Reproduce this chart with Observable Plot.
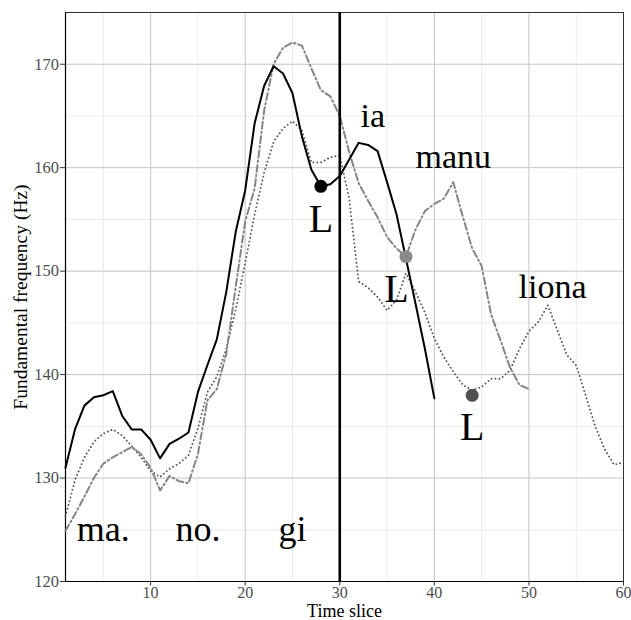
<!DOCTYPE html>
<html><head><meta charset="utf-8">
<script src="https://cdn.jsdelivr.net/npm/d3@7"></script>
<script src="https://cdn.jsdelivr.net/npm/@observablehq/plot@0.6"></script>
<style>body{margin:0;background:#fff} svg{display:block}</style>
</head><body><div id="chart"></div>
<script>
// --- data ---
const iaTime = [1,2,3,4,5,6,7,8,9,10,11,12,13,14,15,16,17,18,19,20,21,22,23,24,25,26,27,28,29,30,31,32,33,34,35,36,37,38,39,40];
const iaF0 = [131.0,134.7,137.0,137.8,138.0,138.4,136.0,134.7,134.7,133.7,131.9,133.3,133.8,134.4,138.3,140.9,143.4,148.0,153.8,157.8,164.3,167.9,169.8,169.1,167.2,163.0,159.8,158.2,158.4,159.2,160.8,162.4,162.2,161.6,158.6,155.5,151.2,146.9,142.5,137.7];

const manuTime = [1,2,3,4,5,6,7,8,9,10,11,12,13,14,15,16,17,18,19,20,21,22,23,24,25,26,27,28,29,30,31,32,33,34,35,36,37,38,39,40,41,42,43,44,45,46,47,48,49,50];
const manuF0 = [124.9,126.5,128.2,130.0,131.4,132.0,132.5,133.0,132.3,131.0,128.8,130.2,129.7,129.5,132.3,137.5,138.6,142.0,148.5,154.8,158.0,165.5,170.0,171.6,172.1,171.8,169.6,167.5,166.9,165.0,161.5,158.5,156.8,155.2,153.3,152.2,151.4,154.0,155.8,156.5,157.0,158.6,155.3,152.2,150.5,145.8,143.3,140.7,139.0,138.6];

const lionaTime = [1,2,3,4,5,6,7,8,9,10,11,12,13,14,15,16,17,18,19,20,21,22,23,24,25,26,27,28,29,30,31,32,33,34,35,36,37,38,39,40,41,42,43,44,45,46,47,48,49,50,51,52,53,54,55,56,57,58,59,60];
const lionaF0 = [126.3,129.8,132.0,133.5,134.3,134.7,134.1,133.1,132.0,130.7,130.1,130.9,131.4,132.2,134.8,138.3,139.8,142.5,146.3,150.8,155.5,159.5,162.5,163.8,164.5,163.6,160.5,160.5,161.0,161.2,157.0,149.0,148.4,147.5,146.2,147.2,149.8,148.0,146.0,143.5,141.7,140.3,139.0,138.5,138.8,139.6,139.6,140.4,142.5,144.2,145.1,146.7,144.3,141.9,140.9,138.0,135.0,132.8,131.3,131.5];

const lowTime = [28, 37, 44];
const lowF0 = [158.2, 151.4, 138.0];
const lowColor = ["#000000", "#8a8a8a", "#505050"];

const lowLabelTime = [28, 36, 44];
const lowLabelF0 = [155.0, 148.3, 134.9];

const syllables = ["ma.", "no.", "gi"];
const syllableTime = [5, 15, 25];
const syllableF0 = [125, 125, 125];

const words = ["ia", "manu", "liona"];
const wordTime = [33.5, 42, 52.5];
const wordF0 = [165, 161, 148.5];

const boundaryTime = [30];

const xMajor = [10, 20, 30, 40, 50, 60];
const xMinor = [5, 15, 25, 35, 45, 55];
const yMajor = [120, 130, 140, 150, 160, 170];
const yMinor = [125, 135, 145, 155, 165, 175];

// --- build tables ---
const rows = (time, f0) => time.map((t, i) => ({t, f0: f0[i]}));
const ia = rows(iaTime, iaF0);
const manu = rows(manuTime, manuF0);
const liona = rows(lionaTime, lionaF0);
const lows = lowTime.map((t, i) => ({t, f0: lowF0[i], c: lowColor[i]}));
const lowLabels = lowLabelTime.map((t, i) => ({t, f0: lowLabelF0[i], s: "L"}));
const syl = syllables.map((s, i) => ({s, t: syllableTime[i], f0: syllableF0[i]}));
const wrd = words.map((s, i) => ({s, t: wordTime[i], f0: wordF0[i]}));

const chart = Plot.plot({
  width: 631,
  height: 620,
  marginLeft: 65,
  marginRight: 8,
  marginTop: 12,
  marginBottom: 39,
  x: {domain: [1, 60]},
  y: {domain: [120, 175]},
  style: {fontFamily: "'Liberation Serif', serif", background: "#fff"},
  marks: [
    Plot.ruleX(xMinor, {stroke: "#ebebeb", strokeWidth: 1}),
    Plot.ruleY(yMinor, {stroke: "#ebebeb", strokeWidth: 1}),
    Plot.ruleX(xMajor, {stroke: "#c4c4c4", strokeWidth: 1}),
    Plot.ruleY(yMajor, {stroke: "#c4c4c4", strokeWidth: 1}),
    Plot.frame({stroke: "#333333", strokeWidth: 1}),
    Plot.ruleX([1], {stroke: "#000", strokeWidth: 1.2}),
    Plot.ruleY([120], {stroke: "#000", strokeWidth: 1.2}),
    Plot.axisX(xMajor, {tickSize: 4.5, tickPadding: 0.5, fontSize: 16, stroke: "#333", fill: "#4d4d4d", label: null}),
    Plot.axisY(yMajor, {tickSize: 5, tickPadding: 1.5, fontSize: 16.5, stroke: "#333", fill: "#4d4d4d", label: null}),
    Plot.text(["Time slice"], {frameAnchor: "bottom", lineAnchor: "middle", textAnchor: "middle", dy: 29.4, fontSize: 18, fill: "#000"}),
    Plot.text(["Fundamental frequency (Hz)"], {frameAnchor: "left", lineAnchor: "middle", textAnchor: "middle", dx: -45, rotate: -90, fontSize: 19.5, fill: "#000"}),
    Plot.line(liona, {x: "t", y: "f0", stroke: "#555555", strokeWidth: 1.9, strokeLinecap: "round", strokeDasharray: "0.01,3.9"}),
    Plot.line(manu, {x: "t", y: "f0", stroke: "#858585", strokeWidth: 2, strokeDasharray: "7,3,1.5,3"}),
    Plot.line(ia, {x: "t", y: "f0", stroke: "#000", strokeWidth: 2}),
    Plot.ruleX(boundaryTime, {stroke: "#000", strokeWidth: 2.6}),
    Plot.dot(lows, {x: "t", y: "f0", fill: "c", r: 6.5, stroke: null}),
    Plot.text(lowLabels, {x: "t", y: "f0", text: "s", fontSize: 40, fill: "#000"}),
    Plot.text(syl, {x: "t", y: "f0", text: "s", fontSize: 36, fill: "#000"}),
    Plot.text(wrd, {x: "t", y: "f0", text: "s", fontSize: 34, fill: "#000"})
  ]
});
document.getElementById("chart").appendChild(chart);
</script>
</body></html>
